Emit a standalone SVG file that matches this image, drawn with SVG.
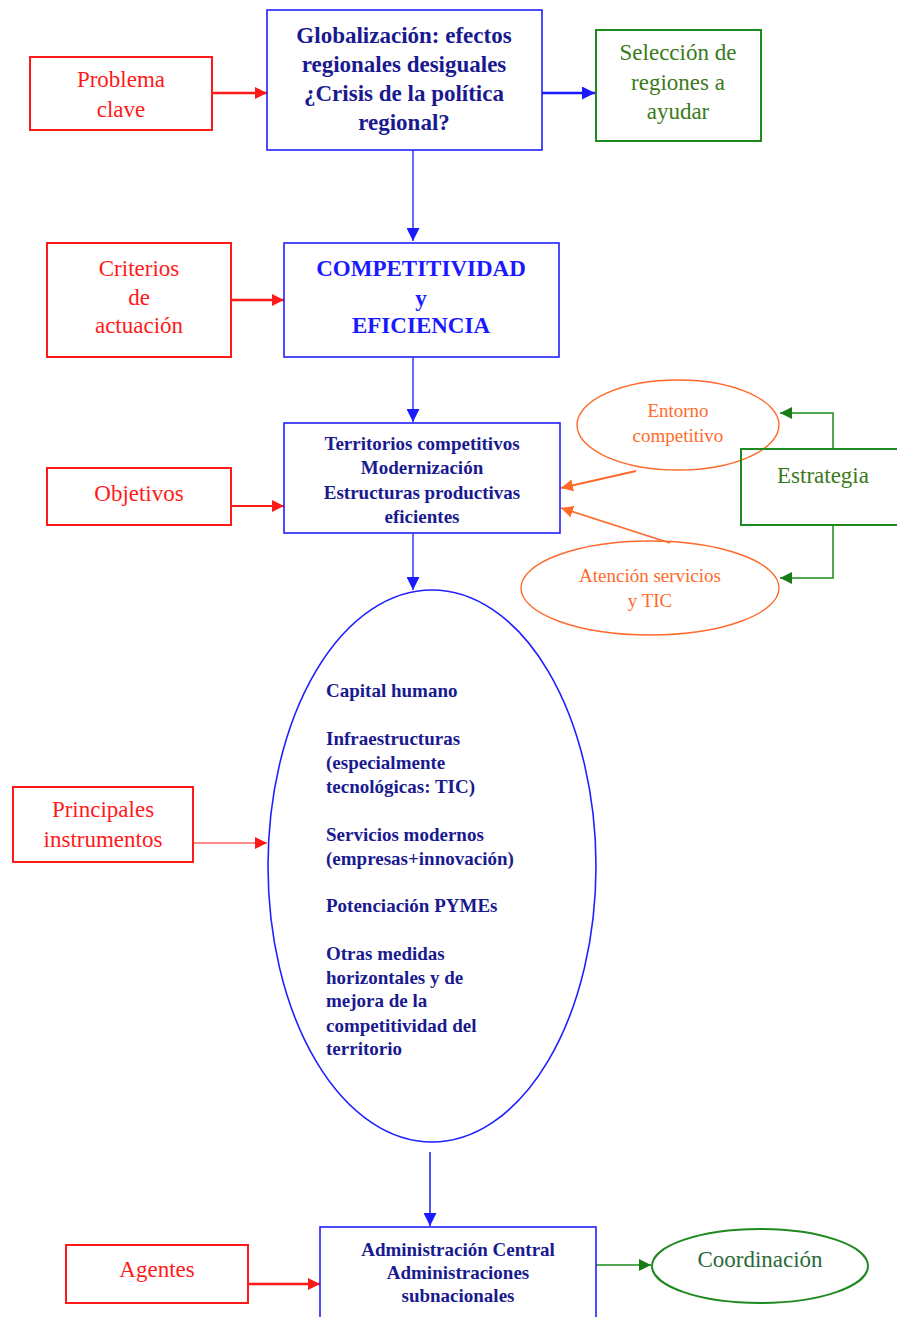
<svg xmlns="http://www.w3.org/2000/svg" width="897" height="1317" viewBox="0 0 897 1317">
<style>
text{font-family:"Liberation Serif","Tinos","Times New Roman","Nimbus Roman","DejaVu Serif",serif}
.t{text-anchor:middle}
.red{fill:none;stroke:#ff1a1a;stroke-width:2}
.blue{fill:none;stroke:#2020ff;stroke-width:1.6}
.green{fill:none;stroke:#1f8a1f;stroke-width:2}
.orange{fill:none;stroke:#ff6a2a;stroke-width:1.4}
.rt{fill:#ff1a1a;font-size:23px}
.nv{fill:#1a1a90;font-weight:bold}
.bt{fill:#1a1aff;font-weight:bold}
.gt{fill:#3a7a1a;font-size:23px}
.ot{fill:#ff6a2a;font-size:19px}
.li{font-size:19px;font-weight:bold;fill:#1a1a90}
</style>
<defs>
<marker id="ar" viewBox="0 0 10 10" refX="10" refY="5" markerWidth="12" markerHeight="12" markerUnits="userSpaceOnUse" orient="auto"><path d="M0,0L10,5L0,10z" fill="#ff1a1a"/></marker>
<marker id="ab" viewBox="0 0 10 10" refX="10" refY="5" markerWidth="13" markerHeight="13" markerUnits="userSpaceOnUse" orient="auto"><path d="M0,0L10,5L0,10z" fill="#1a1aff"/></marker>
<marker id="ag" viewBox="0 0 10 10" refX="10" refY="5" markerWidth="12" markerHeight="12" markerUnits="userSpaceOnUse" orient="auto"><path d="M0,0L10,5L0,10z" fill="#1a7a1a"/></marker>
<marker id="ao" viewBox="0 0 10 10" refX="10" refY="5" markerWidth="12" markerHeight="12" markerUnits="userSpaceOnUse" orient="auto"><path d="M0,0L10,5L0,10z" fill="#ff6a2a"/></marker>
</defs>
<rect width="897" height="1317" fill="#fff"/>

<g id="connectors">
<line x1="212" y1="93" x2="267" y2="93" stroke="#ff1a1a" stroke-width="2.5" marker-end="url(#ar)"/>
<line x1="542" y1="93" x2="595" y2="93" stroke="#1a1aff" stroke-width="2.5" marker-end="url(#ab)"/>
<line x1="413" y1="150" x2="413" y2="241" stroke="#1a1aff" stroke-width="1.3" marker-end="url(#ab)"/>
<line x1="231" y1="300" x2="284" y2="300" stroke="#ff1a1a" stroke-width="2.5" marker-end="url(#ar)"/>
<line x1="413" y1="357" x2="413" y2="422" stroke="#1a1aff" stroke-width="1.3" marker-end="url(#ab)"/>
<line x1="231" y1="506" x2="284" y2="506" stroke="#ff1a1a" stroke-width="2" marker-end="url(#ar)"/>
<line x1="413" y1="533" x2="413" y2="590" stroke="#1a1aff" stroke-width="1.3" marker-end="url(#ab)"/>
<polyline points="833,449 833,413 780,413" fill="none" stroke="#1a8a1a" stroke-width="1.5" marker-end="url(#ag)"/>
<polyline points="833,525 833,578 780,578" fill="none" stroke="#1a8a1a" stroke-width="1.5" marker-end="url(#ag)"/>
<line x1="636" y1="471" x2="561" y2="488" stroke="#ff6a2a" stroke-width="1.8" marker-end="url(#ao)"/>
<line x1="670" y1="543" x2="561" y2="508" stroke="#ff6a2a" stroke-width="1.8" marker-end="url(#ao)"/>
<line x1="193" y1="843" x2="267" y2="843" stroke="#ff1a1a" stroke-width="1.2" marker-end="url(#ar)"/>
<line x1="430" y1="1152" x2="430" y2="1226" stroke="#1a1aff" stroke-width="1.5" marker-end="url(#ab)"/>
<line x1="248" y1="1284" x2="320" y2="1284" stroke="#ff1a1a" stroke-width="2.5" marker-end="url(#ar)"/>
<line x1="596" y1="1265" x2="651" y2="1265" stroke="#1a8a1a" stroke-width="1.5" marker-end="url(#ag)"/>
</g>

<g id="problema">
<rect class="red" x="30" y="57" width="182" height="73"/>
<text class="t rt" x="121" y="87">Problema</text>
<text class="t rt" x="121" y="117">clave</text>
</g>

<g id="globalizacion">
<rect class="blue" x="267" y="10" width="275" height="140" stroke-width="2"/>
<text class="t nv" font-size="23" x="404" y="43">Globalización: efectos</text>
<text class="t nv" font-size="23" x="404" y="72">regionales desiguales</text>
<text class="t nv" font-size="23" x="404" y="101">¿Crisis de la política</text>
<text class="t nv" font-size="23" x="404" y="130">regional?</text>
</g>

<g id="seleccion">
<rect class="green" x="596" y="30" width="165" height="111"/>
<text class="t gt" x="678" y="60">Selección de</text>
<text class="t gt" x="678" y="90">regiones a</text>
<text class="t gt" x="678" y="119">ayudar</text>
</g>

<g id="criterios">
<rect class="red" x="47" y="243" width="184" height="114"/>
<text class="t rt" x="139" y="276">Criterios</text>
<text class="t rt" x="139" y="305">de</text>
<text class="t rt" x="139" y="333">actuación</text>
</g>

<g id="competitividad">
<rect class="blue" x="284" y="243" width="275" height="114" stroke-width="2"/>
<text class="t bt" font-size="23" x="421" y="276">COMPETITIVIDAD</text>
<text class="t bt" font-size="23" x="421" y="306" font-weight="normal">y</text>
<text class="t bt" font-size="23" x="421" y="333">EFICIENCIA</text>
</g>

<g id="objetivos">
<rect class="red" x="47" y="468" width="184" height="57"/>
<text class="t rt" x="139" y="501">Objetivos</text>
</g>

<g id="territorios">
<rect class="blue" x="284" y="423" width="276" height="110"/>
<text class="t nv" font-size="19" x="422" y="450">Territorios competitivos</text>
<text class="t nv" font-size="19" x="422" y="474">Modernización</text>
<text class="t nv" font-size="19" x="422" y="499">Estructuras productivas</text>
<text class="t nv" font-size="19" x="422" y="523">eficientes</text>
</g>

<g id="entorno">
<ellipse class="orange" cx="678" cy="425" rx="101" ry="45"/>
<text class="t ot" x="678" y="417">Entorno</text>
<text class="t ot" x="678" y="442">competitivo</text>
</g>

<g id="estrategia">
<rect class="green" x="741" y="449" width="160" height="76"/>
<text class="t gt" x="823" y="483">Estrategia</text>
</g>

<g id="atencion">
<ellipse class="orange" cx="650" cy="588" rx="129" ry="47"/>
<text class="t ot" x="650" y="582">Atención servicios</text>
<text class="t ot" x="650" y="607">y TIC</text>
</g>

<g id="instrumentos-lista">
<ellipse class="blue" cx="432" cy="866" rx="164" ry="276" stroke-width="1.5"/>
<text class="li" x="326" y="697">Capital humano</text>
<text class="li" x="326" y="745">Infraestructuras</text>
<text class="li" x="326" y="769">(especialmente</text>
<text class="li" x="326" y="793">tecnológicas: TIC)</text>
<text class="li" x="326" y="841">Servicios modernos</text>
<text class="li" x="326" y="865">(empresas+innovación)</text>
<text class="li" x="326" y="912">Potenciación PYMEs</text>
<text class="li" x="326" y="960">Otras medidas</text>
<text class="li" x="326" y="984">horizontales y de</text>
<text class="li" x="326" y="1007">mejora de la</text>
<text class="li" x="326" y="1032">competitividad del</text>
<text class="li" x="326" y="1055">territorio</text>
</g>

<g id="principales">
<rect class="red" x="13" y="787" width="180" height="75"/>
<text class="t rt" x="103" y="817">Principales</text>
<text class="t rt" x="103" y="847">instrumentos</text>
</g>

<g id="agentes">
<rect class="red" x="66" y="1245" width="182" height="58"/>
<text class="t rt" x="157" y="1277">Agentes</text>
</g>

<g id="administracion">
<rect class="blue" x="320" y="1227" width="276" height="100" stroke-width="2"/>
<text class="t nv" font-size="19" x="458" y="1256">Administración Central</text>
<text class="t nv" font-size="19" x="458" y="1279">Administraciones</text>
<text class="t nv" font-size="19" x="458" y="1302">subnacionales</text>
</g>

<g id="coordinacion">
<ellipse class="green" cx="760" cy="1266" rx="108" ry="37" stroke-width="1.5"/>
<text class="t" x="760" y="1267" font-size="23" fill="#2a6a3a">Coordinación</text>
</g>
</svg>
